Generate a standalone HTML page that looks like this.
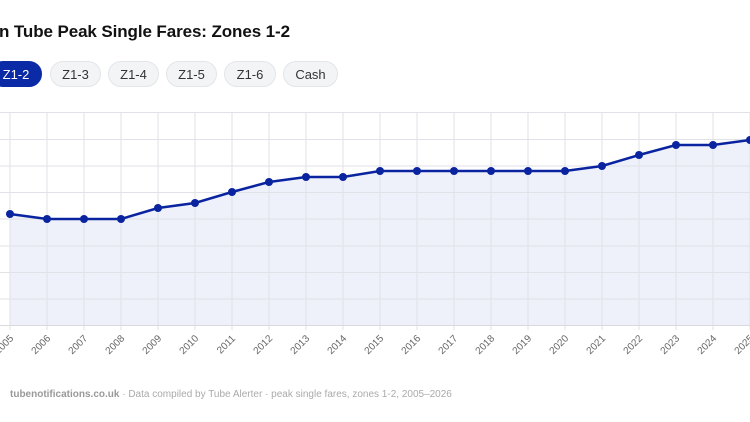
<!DOCTYPE html>
<html><head><style>
body{margin:0;width:750px;height:422px;background:#fff;overflow:hidden;font-family:"Liberation Sans",sans-serif;position:relative}
.t{position:absolute;left:-1px;top:22px;font-size:17px;font-weight:bold;color:#111;white-space:nowrap;letter-spacing:-0.1px}
.b{position:absolute;top:61px;height:26px;line-height:26px;border-radius:13px;background:#f3f4f6;border:1px solid #e3e5ea;box-sizing:border-box;font-size:13px;color:#333;text-align:center}
.a{background:#0a2aa6;color:#fff;border-color:#0a2aa6}
.f{position:absolute;left:10px;top:389px;font-size:10px;color:#aaa;white-space:nowrap}
</style></head><body>
<div class="t">n Tube Peak Single Fares: Zones 1-2</div>
<div class="b a" style="left:-10px;width:52px">Z1-2</div>
<div class="b" style="left:50px;width:51px">Z1-3</div>
<div class="b" style="left:108px;width:51px">Z1-4</div>
<div class="b" style="left:166px;width:51px">Z1-5</div>
<div class="b" style="left:224px;width:52px">Z1-6</div>
<div class="b" style="left:283px;width:55px">Cash</div>
<svg width="750" height="422" style="position:absolute;left:0;top:0">
<path id="area" fill="#eef0fa" stroke="none"/>
<g stroke="#e0e2e8" stroke-width="1">
<line x1="0" x2="750" y1="112.5" y2="112.5"/><line x1="0" x2="750" y1="139.5" y2="139.5"/><line x1="0" x2="750" y1="166" y2="166"/><line x1="0" x2="750" y1="192.5" y2="192.5"/><line x1="0" x2="750" y1="219" y2="219"/><line x1="0" x2="750" y1="246" y2="246"/><line x1="0" x2="750" y1="272.5" y2="272.5"/><line x1="0" x2="750" y1="299" y2="299"/>
</g>
<g id="v" stroke="#e0e2e8"></g>
<line x1="0" x2="750" y1="325.5" y2="325.5" stroke="#d8dae0"/>
<path id="ln" fill="none" stroke="#0a24a0" stroke-width="2.5"/>
<g id="pts" fill="#0a24a0"></g>
<g id="lb" font-size="10" fill="#666" font-family="Liberation Sans,sans-serif"></g>
</svg>
<div class="f"><b style="color:#999">tubenotifications.co.uk</b> · Data compiled by Tube Alerter · peak single fares, zones 1-2, 2005–2026</div>
<script>
var ys=[214,219,219,219,208,203,192,182,177,177,171,171,171,171,171,171,166,155,145,145,140];
var ns="http://www.w3.org/2000/svg",v=document.getElementById('v'),p=document.getElementById('pts'),lb=document.getElementById('lb');
var d="",x;
for(var i=0;i<ys.length;i++){x=10+37*i;
var l=document.createElementNS(ns,'line');l.setAttribute('x1',x);l.setAttribute('x2',x);l.setAttribute('y1',112);l.setAttribute('y2',330);v.appendChild(l);
var c=document.createElementNS(ns,'circle');c.setAttribute('cx',x);c.setAttribute('cy',ys[i]);c.setAttribute('r',4);p.appendChild(c);
var t=document.createElementNS(ns,'text');t.setAttribute('x',x+4);t.setAttribute('y',339);t.setAttribute('text-anchor','end');t.setAttribute('transform','rotate(-45 '+(x+4)+' 339)');t.textContent=2005+i;lb.appendChild(t);
d+=(i?"L":"M")+x+","+ys[i];}
document.getElementById('ln').setAttribute('d',d);
document.getElementById('area').setAttribute('d',d+"L750,325L10,325Z");
</script>
</body></html>
